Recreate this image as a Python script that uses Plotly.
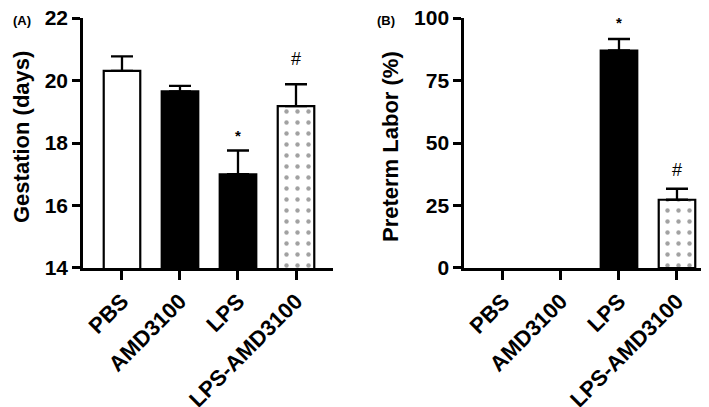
import plotly.graph_objects as go

# groups and values
groups = ["PBS", "AMD3100", "LPS", "LPS-AMD3100"]

gestation_mean = [20.31, 19.65, 17.0, 19.18]
gestation_sem = [0.46, 0.18, 0.76, 0.70]
gestation_sig = ["", "", "*", "#"]

preterm_mean = [0, 0, 87.0, 27.3]
preterm_sem = [0, 0, 4.6, 4.4]
preterm_sig = ["", "", "*", "#"]

FONT = "Arial, Liberation Sans, sans-serif"
BAR_FILL = ["white", "black", "black", "white"]
PATTERN = ["", "", "", "."]


def add_panel(fig, means, sems, xa, ya):
    # zero-height bars are not drawn in the original (no outline / cap for them)
    fig.add_trace(go.Bar(
        x=groups,
        y=[m if m else None for m in means],
        width=0.63,
        marker=dict(
            color=BAR_FILL,
            line=dict(color="black", width=2.2),
            pattern=dict(shape=PATTERN, fgcolor="#a8a8a8", bgcolor="white",
                         size=11, solidity=0.13),
        ),
        error_y=dict(type="data", array=[s if s else None for s in sems],
                     arrayminus=[0] * len(sems),
                     symmetric=False, color="black", thickness=2.3, width=11),
        xaxis=xa, yaxis=ya,
        showlegend=False,
    ))


fig = go.Figure()
add_panel(fig, gestation_mean, gestation_sem, "x", "y")
add_panel(fig, preterm_mean, preterm_sem, "x2", "y2")

xaxis_style = dict(
    type="category",
    categoryorder="array", categoryarray=groups,
    showline=True, linecolor="black", linewidth=2.5,
    ticks="outside", ticklen=9, tickwidth=2.5, tickcolor="black",
    tickangle=-45,
    tickfont=dict(family=FONT, size=22, color="black", weight="bold"),
    showgrid=False, zeroline=False, automargin=False,
    ticklabeloverflow="allow",
    range=[-0.672, 3.638],
)
yaxis_style = dict(
    showline=True, linecolor="black", linewidth=2.5,
    ticks="outside", ticklen=8, tickwidth=2.5, tickcolor="black",
    tickfont=dict(family=FONT, size=21, color="black", weight="bold"),
    showgrid=False, zeroline=False, automargin=False,
    ticklabeloverflow="allow",
    domain=[0.3612, 0.9754],
)

fig.update_layout(
    width=709, height=407,
    margin=dict(l=0, r=0, t=0, b=0),
    paper_bgcolor="white", plot_bgcolor="white",
    xaxis=dict(**xaxis_style, domain=[0.1058, 0.4584], anchor="y"),
    xaxis2={**xaxis_style, "domain": [0.6432, 0.9915], "anchor": "y2",
            "range": [-0.672, 3.586]},
    yaxis=dict(**yaxis_style, range=[14, 22], dtick=2, anchor="x"),
    yaxis2=dict(**yaxis_style, range=[0, 100], dtick=25, anchor="x2"),
)

annotations = []
# significance marks above the error bars
for xa, ya, means, sems, sig, shifts in [
        ("x", "y", gestation_mean, gestation_sem, gestation_sig, {"*": 15, "#": 25}),
        ("x2", "y2", preterm_mean, preterm_sem, preterm_sig, {"*": 17, "#": 19})]:
    for g, m, s, mark in zip(groups, means, sems, sig):
        if not mark:
            continue
        annotations.append(dict(
            x=g, y=m + s, xref=xa, yref=ya, text=mark, showarrow=False,
            yanchor="middle", yshift=shifts[mark],
            font=dict(family=FONT, size=15 if mark == "*" else 18, color="black",
                      weight="bold" if mark == "*" else "normal"),
        ))

# axis titles and panel letters
annotations += [
    dict(x=13 / 709, y=1 - 129 / 407, xref="paper", yref="paper", text="Gestation (days)",
         textangle=-90, showarrow=False, xanchor="center", yanchor="middle",
         font=dict(family=FONT, size=22, color="black", weight="bold")),
    dict(x=382 / 709, y=1 - 139 / 407, xref="paper", yref="paper", text="Preterm Labor (%)",
         textangle=-90, showarrow=False, xanchor="center", yanchor="middle",
         font=dict(family=FONT, size=22, color="black", weight="bold")),
    dict(x=14 / 709, y=1 - 12 / 407, xref="paper", yref="paper", text="(A)",
         showarrow=False, xanchor="center", yanchor="middle",
         font=dict(family=FONT, size=13, color="black", weight="bold")),
    dict(x=378 / 709, y=1 - 12 / 407, xref="paper", yref="paper", text="(B)",
         showarrow=False, xanchor="center", yanchor="middle",
         font=dict(family=FONT, size=13, color="black", weight="bold")),
]
fig.update_layout(annotations=annotations)

fig.write_html("out.html")
